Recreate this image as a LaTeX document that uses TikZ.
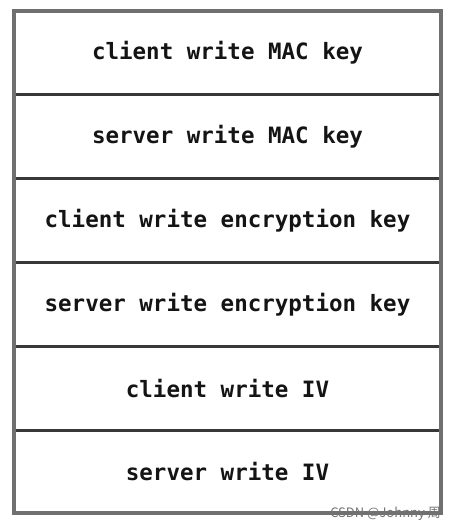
\documentclass[tikz,border=0pt]{standalone}
\usepackage{fontspec}
\setmonofont{DejaVu Sans Mono}
\newfontfamily\cjk{Noto Sans CJK SC}
\definecolor{framegray}{HTML}{707070}
\definecolor{sepgray}{HTML}{383838}
\begin{document}
\begin{tikzpicture}[x=1pt,y=-1pt,
  rowtext/.style={font=\ttfamily\bfseries\fontsize{22.5}{26}\selectfont, text=black!92, inner sep=0pt},
  sepline/.style={draw=sepgray, line width=3pt},
  frameline/.style={draw=framegray, line width=3.2pt}]
\useasboundingbox[fill=white] (0,0) rectangle (455,531);
% row separators
\foreach \y in {94,178,262,346,430} {
  \draw[sepline] (14,\y) -- (441,\y);
}
\draw[frameline] (14,11) rectangle (441,513);
\node[rowtext] (r1) at (227.5,53) {client write MAC key};
\node[rowtext] (r2) at (227.5,137) {server write MAC key};
\node[rowtext] (r3) at (227.5,221) {client write encryption key};
\node[rowtext] (r4) at (227.5,305) {server write encryption key};
\node[rowtext] (r5) at (227.5,389) {client write IV};
\node[rowtext] (r6) at (227.5,472) {server write IV};
\node[font=\cjk\fontsize{13}{15}\selectfont, text=black!55, anchor=east, inner sep=0pt] (wm) at (441,514) {CSDN @Johnny 周};
\end{tikzpicture}
\end{document}
